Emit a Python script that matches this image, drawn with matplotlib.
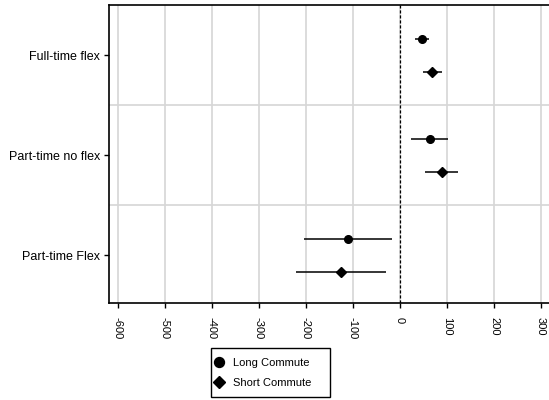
import matplotlib
matplotlib.use('Agg')
import matplotlib.pyplot as plt
from matplotlib.patches import Rectangle
import numpy as np

plt.rcParams['font.family'] = ['Liberation Sans', 'DejaVu Sans']

categories = ['Full-time flex', 'Part-time no flex', 'Part-time Flex']
long_est = [47, 63, -111]
long_lo = [32, 23, -204]
long_hi = [62, 102, -18]
short_est = [69, 89, -126]
short_lo = [50, 54, -221]
short_hi = [89, 123, -30]
xticks = [-600, -500, -400, -300, -200, -100, 0, 100, 200, 300]

fig = plt.figure(figsize=(5.49, 4.0), dpi=100)
ax = fig.add_axes([109/549, 97/400, 440/549, 298/400])

pos = np.arange(len(categories))
off = 0.165
le = np.array(long_est); se = np.array(short_est)
ax.errorbar(le, pos - off, xerr=[le - np.array(long_lo), np.array(long_hi) - le],
            fmt='o', color='black', ms=5.5, elinewidth=1.1, capsize=0, label='Long Commute', zorder=3)
ax.errorbar(se, pos + off, xerr=[se - np.array(short_lo), np.array(short_hi) - se],
            fmt='D', color='black', ms=5, elinewidth=1.1, capsize=0, label='Short Commute', zorder=3)

ax.axvline(0, color='black', ls=(0, (2.5, 1.5)), lw=0.9, zorder=2)

for x in xticks:
    ax.axvline(x, color='#d6d6d6', lw=1.2, zorder=0)
for y in [0.5, 1.5]:
    ax.axhline(y, color='#d6d6d6', lw=1.2, zorder=0)

ax.set_xlim(-619, 317)
ax.set_ylim(2.48, -0.5)
ax.set_yticks(pos)
ax.set_yticklabels(categories, fontsize=9)
ax.set_xticks(xticks)
ax.set_xticklabels([str(x) for x in xticks], fontsize=8, rotation=-90,
                   family=['Liberation Sans Narrow', 'Liberation Sans'])
ax.tick_params(direction='out', length=3.8, width=1, color='black', pad=2.5)
ax.tick_params(axis='x', pad=6)
ax.spines['right'].set_visible(False)
for s in ['left', 'bottom', 'top']:
    ax.spines[s].set_linewidth(1.2)

handles = [h[0] for h in ax.get_legend_handles_labels()[0]]
leg = fig.legend(handles=handles, labels=['Long Commute', 'Short Commute'],
                 loc='upper left', bbox_to_anchor=(206/549, 1 - 350/400), fontsize=8,
                 frameon=False, handlelength=1.0, handletextpad=0.7, markerscale=1.3,
                 borderpad=0.2, labelspacing=0.95)
fig.add_artist(Rectangle((211/549, 1 - 397/400), 119/549, 49/400, transform=fig.transFigure,
                         fill=False, edgecolor='black', lw=1.0))

fig.savefig('out.png', dpi=100)
